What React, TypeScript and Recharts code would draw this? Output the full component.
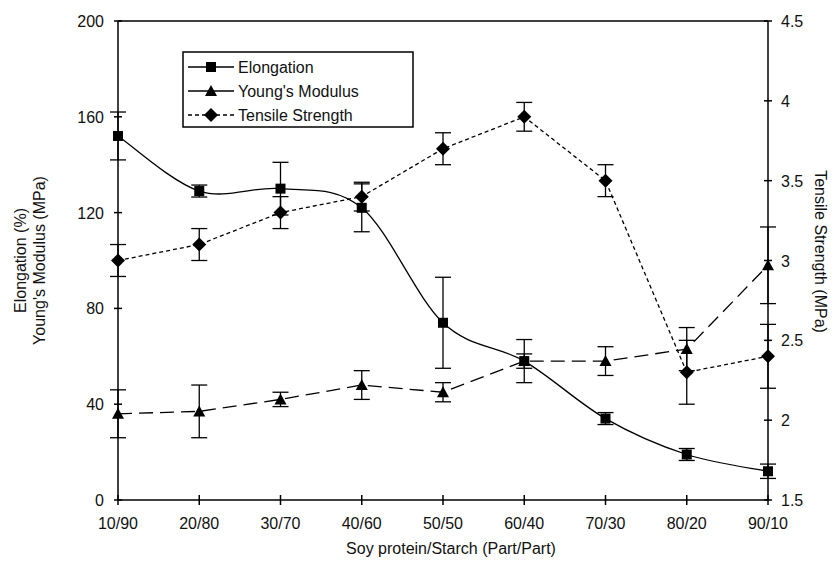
import React from 'react'
import { LineChart, Line, XAxis, YAxis, ErrorBar, Label, ReferenceLine } from 'recharts'

const categories = ['10/90', '20/80', '30/70', '40/60', '50/50', '60/40', '70/30', '80/20', '90/10']
const elongation = [152, 129, 130, 122, 74, 58, 34, 19, 12]
const elongationErr = [10, 2.5, 11, 10, 19, 9, 2.5, 2.5, 3]
const modulus = [36, 37, 42, 48, 45, 58, 58, 63, 98]
const modulusErr = [10, 11, 3, 6, 4, 3, 6, 9, 16]
const tensile = [3.0, 3.1, 3.3, 3.4, 3.7, 3.9, 3.5, 2.3, 2.4]
const tensileErr = [0.1, 0.1, 0.1, 0.09, 0.1, 0.09, 0.1, 0.2, 0.2]

const leftTicks = [0, 40, 80, 120, 160, 200]
const rightTicks = [1.5, 2, 2.5, 3, 3.5, 4, 4.5]

const data = categories.map((name, i) => ({
  name,
  elongation: elongation[i],
  elongationErr: elongationErr[i],
  modulus: modulus[i],
  modulusErr: modulusErr[i],
  tensile: tensile[i],
  tensileErr: tensileErr[i],
}))

const font = '"Liberation Sans", Arial, sans-serif'

// excel-like smoothed line (catmull-rom)
const smoothCurve = (context: any) => {
  let pts: [number, number][] = []
  return {
    areaStart() {},
    areaEnd() {},
    lineStart() { pts = [] },
    lineEnd() {
      if (!pts.length) return
      context.moveTo(pts[0][0], pts[0][1])
      for (let i = 0; i < pts.length - 1; i++) {
        const p0 = pts[i - 1] || pts[i]
        const p1 = pts[i]
        const p2 = pts[i + 1]
        const p3 = pts[i + 2] || p2
        context.bezierCurveTo(
          p1[0] + (p2[0] - p0[0]) / 6, p1[1] + (p2[1] - p0[1]) / 6,
          p2[0] - (p3[0] - p1[0]) / 6, p2[1] - (p3[1] - p1[1]) / 6,
          p2[0], p2[1])
      }
    },
    point(x: number, y: number) { pts.push([x, y]) },
  }
}

const Square = ({ cx, cy }: any) => <rect x={cx - 5} y={cy - 5} width={10} height={10} fill="#000" />
const Triangle = ({ cx, cy }: any) => <polygon points={`${cx},${cy - 6} ${cx + 6},${cy + 5} ${cx - 6},${cy + 5}`} fill="#000" />
const Diamond = ({ cx, cy }: any) => <polygon points={`${cx},${cy - 7} ${cx + 7},${cy} ${cx},${cy + 7} ${cx - 7},${cy}`} fill="#000" />

const LeftTick = ({ x, y, payload }: any) => (
  <g>
    <line x1={x - 4} x2={x + 4} y1={y} y2={y} stroke="#000" strokeWidth={1.5} />
    <text x={x - 14} y={y + 6} textAnchor="end" fontSize={16} fontFamily={font} fill="#111">{payload.value}</text>
  </g>
)
const RightTick = ({ x, y, payload }: any) => (
  <g>
    <line x1={x - 4} x2={x + 4} y1={y} y2={y} stroke="#000" strokeWidth={1.5} />
    <text x={x + 13} y={y + 6} textAnchor="start" fontSize={16} fontFamily={font} fill="#111">{payload.value}</text>
  </g>
)
const BottomTick = ({ x, y, payload }: any) => (
  <g>
    <line x1={x} x2={x} y1={y - 5} y2={y + 5} stroke="#000" strokeWidth={1.5} />
    <text x={x} y={y + 29} textAnchor="middle" fontSize={16} fontFamily={font} fill="#111">{payload.value}</text>
  </g>
)

const LegendBox = () => {
  const rows = [
    { label: 'Elongation', dash: undefined, Mark: Square },
    { label: "Young's Modulus", dash: undefined, Mark: Triangle },
    { label: 'Tensile Strength', dash: '4 3', Mark: Diamond },
  ]
  return (
    <svg width={232} height={77} style={{ display: 'block', position: 'absolute', left: 182, top: 51 }}>
      <rect x={1} y={1} width={230} height={75} fill="#fff" stroke="#000" strokeWidth={1.5} />
      {rows.map((r, i) => {
        const cy = 16 + i * 24
        return (
          <g key={r.label}>
            <line x1={6} x2={52} y1={cy} y2={cy} stroke="#000" strokeWidth={1.3} strokeDasharray={r.dash} />
            <r.Mark cx={29} cy={cy} />
            <text x={56} y={cy + 6} fontSize={16} fontFamily={font} fill="#111">{r.label}</text>
          </g>
        )
      })}
    </svg>
  )
}

const App = () => {
  return (
    <div style={{ width: 834, height: 563, background: '#fff', position: 'relative' }}>
      <style>{'body{margin:0}'}</style>
      <LineChart width={834} height={563} data={data} margin={{ top: 21, right: 16, bottom: 0, left: 58 }}>
        <XAxis dataKey="name" height={63} tick={<BottomTick />} tickSize={0} tickMargin={0} tickLine={false}
          stroke="#000" strokeWidth={1.5} interval={0}>
          <Label content={({ viewBox }: any) => (
            <text x={viewBox.x + viewBox.width / 2 + 8} y={viewBox.y + 54} textAnchor="middle" fontSize={16} fontFamily={font} fill="#111">
              Soy protein/Starch (Part/Part)
            </text>
          )} />
        </XAxis>
        <YAxis yAxisId="left" domain={[0, 200]} ticks={leftTicks} width={60} tick={<LeftTick />} tickSize={0} tickMargin={0}
          tickLine={false} stroke="#000" strokeWidth={1.5} interval={0}>
          <Label content={({ viewBox }: any) => {
            const cy = viewBox.y + viewBox.height / 2
            return (
              <g>
                <text x={26} y={cy} transform={`rotate(-90 26 ${cy})`} textAnchor="middle" fontSize={16} fontFamily={font} fill="#111">Elongation (%)</text>
                <text x={45} y={cy} transform={`rotate(-90 45 ${cy})`} textAnchor="middle" fontSize={16} fontFamily={font} fill="#111">Young's Modulus (MPa)</text>
              </g>
            )
          }} />
        </YAxis>
        <YAxis yAxisId="right" orientation="right" domain={[1.5, 4.5]} ticks={rightTicks} width={50} tick={<RightTick />}
          tickSize={0} tickMargin={0} tickLine={false} stroke="#000" strokeWidth={1.5} interval={0}>
          <Label content={({ viewBox }: any) => {
            const cy = viewBox.y + viewBox.height / 2 - 9
            return (
              <text x={815} y={cy} transform={`rotate(90 815 ${cy})`} textAnchor="middle" fontSize={16} fontFamily={font} fill="#111">Tensile Strength (MPa)</text>
            )
          }} />
        </YAxis>
        <ReferenceLine yAxisId="left" y={200} stroke="#000" strokeWidth={1.5} />
        <Line yAxisId="left" dataKey="elongation" type={smoothCurve as any} stroke="#000" strokeWidth={1.3}
          dot={(p: any) => <Square key={p.key} cx={p.cx} cy={p.cy} />} isAnimationActive={false}>
          <ErrorBar dataKey="elongationErr" width={8} stroke="#000" strokeWidth={1.3} direction="y" />
        </Line>
        <Line yAxisId="left" dataKey="modulus" type="linear" stroke="#000" strokeWidth={1.3} strokeDasharray="14 7"
          dot={(p: any) => <Triangle key={p.key} cx={p.cx} cy={p.cy} />} isAnimationActive={false}>
          <ErrorBar dataKey="modulusErr" width={8} stroke="#000" strokeWidth={1.3} direction="y" />
        </Line>
        <Line yAxisId="right" dataKey="tensile" type="linear" stroke="#000" strokeWidth={1.3} strokeDasharray="4 3"
          dot={(p: any) => <Diamond key={p.key} cx={p.cx} cy={p.cy} />} isAnimationActive={false}>
          <ErrorBar dataKey="tensileErr" width={8} stroke="#000" strokeWidth={1.3} direction="y" />
        </Line>
      </LineChart>
      <LegendBox />
    </div>
  )
}

export default App
